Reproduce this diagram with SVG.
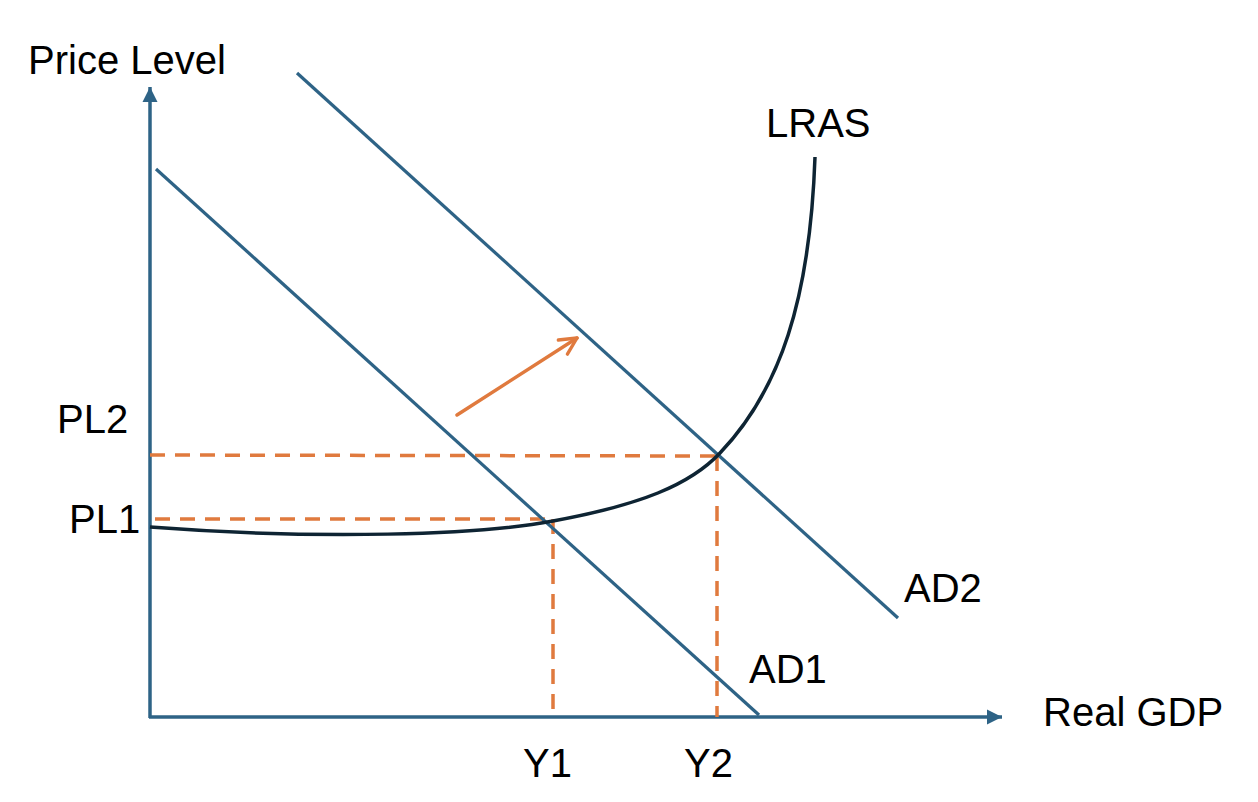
<svg xmlns="http://www.w3.org/2000/svg" width="1258" height="802" viewBox="0 0 1258 802">
  <style>
    .lbl { font-family: "Liberation Sans", Arial, sans-serif; font-size: 40px; fill: #000; }
    .axis { stroke: #2E6386; stroke-width: 3.5; fill: none; }
    .ad { stroke: #2E6386; stroke-width: 3.2; fill: none; }
    .dash { stroke: #E07A3E; stroke-width: 3.5; stroke-dasharray: 15 10; fill: none; }
    .curve { stroke: #0E2433; stroke-width: 3.5; fill: none; }
    .shift { stroke: #E07A3E; stroke-width: 3.5; fill: none; stroke-linecap: round; }
  </style>
  <defs>
    <marker id="axhead" viewBox="0 0 10 10" refX="10" refY="5" markerWidth="4.3" markerHeight="4.3" orient="auto" markerUnits="strokeWidth">
      <path d="M0,0 L10,5 L0,10 Z" fill="#2E6386"/>
    </marker>
    <marker id="openhead" viewBox="0 0 10 10" refX="9" refY="5" markerWidth="6" markerHeight="6" orient="auto" markerUnits="strokeWidth">
      <path d="M1,1 L9,5 L1,9" fill="none" stroke="#E07A3E" stroke-width="1.6" stroke-linecap="round" stroke-linejoin="round"/>
    </marker>
  </defs>
  <g id="connectors">
    <line id="y-axis" class="axis" x1="150" y1="718" x2="150" y2="87" marker-end="url(#axhead)"/>
    <line id="x-axis" class="axis" x1="149" y1="717" x2="1002" y2="717" marker-end="url(#axhead)"/>
    <line id="pl2-dash" class="dash" x1="150" y1="455" x2="717" y2="456"/>
    <line id="pl1-dash" class="dash" x1="155" y1="519" x2="553" y2="519"/>
    <line id="y1-dash" class="dash" x1="553" y1="519" x2="553" y2="717"/>
    <line id="y2-dash" class="dash" x1="717" y1="456" x2="717" y2="717"/>
    <line id="shift-arrow" class="shift" x1="457" y1="415" x2="577" y2="338" marker-end="url(#openhead)"/>
  </g>
  <g id="ad1">
    <line class="ad" x1="156" y1="169" x2="759" y2="715"/>
    <text class="lbl" x="749" y="683">AD1</text>
  </g>
  <g id="ad2">
    <line class="ad" x1="297" y1="73" x2="898" y2="618"/>
    <text class="lbl" x="904" y="602">AD2</text>
  </g>
  <g id="lras">
    <path class="curve" d="M150,527 C320,540 480,535 553,521 C640,505 690,485 720,453 C780,390 810,300 815,157"/>
    <text class="lbl" x="766" y="137">LRAS</text>
  </g>
  <g id="labels">
    <text class="lbl" x="28" y="74">Price Level</text>
    <text class="lbl" x="1043" y="726">Real GDP</text>
    <text class="lbl" x="57" y="433">PL2</text>
    <text class="lbl" x="69" y="533">PL1</text>
    <text class="lbl" x="523" y="777">Y1</text>
    <text class="lbl" x="684" y="777">Y2</text>
  </g>
</svg>
